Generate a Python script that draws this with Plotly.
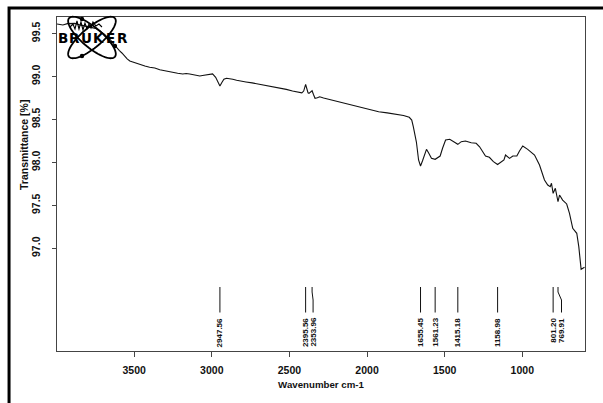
import numpy as np
import plotly.graph_objects as go

# IR spectrum (Bruker OPUS style printout)
wavenumber = [
    3997, 3975, 3959, 3930, 3900, 3881, 3850, 3820, 3785, 3750, 3720, 3690, 3669, 3650,
    3637, 3620, 3611, 3595, 3579, 3570, 3560, 3545, 3528, 3510, 3495, 3465, 3431, 3400,
    3367, 3335, 3302, 3280, 3257, 3220, 3187, 3165, 3142, 3110, 3077, 3060, 3045, 3020,
    2995, 2975, 2962, 2947.56, 2935, 2922, 2905, 2885, 2865, 2840, 2820, 2780, 2740, 2700,
    2660, 2620, 2562, 2520, 2480, 2445, 2420, 2408, 2402, 2395.56, 2388, 2380, 2374, 2365,
    2353.96, 2345, 2335, 2320, 2305, 2280, 2245, 2200, 2140, 2090, 2035, 1980, 1925, 1870,
    1811, 1765, 1728, 1712, 1702, 1694, 1682, 1668, 1655.45, 1643, 1630, 1617, 1603, 1585,
    1561.23, 1529, 1513, 1494, 1467, 1441, 1415.18, 1393, 1366, 1329, 1297, 1275, 1237, 1212,
    1186, 1158.98, 1135, 1118, 1108, 1082, 1061, 1035, 1018, 997, 965, 921, 889, 857,
    836, 820, 812, 801.20, 787, 769.91, 760, 740, 714, 696, 675, 649, 636, 621, 599,
]
transmittance = [
    99.611, 99.605, 99.599, 99.615, 99.622, 99.618, 99.600, 99.590, 99.576, 99.560, 99.529, 99.490, 99.448, 99.420,
    99.389, 99.350, 99.331, 99.300, 99.273, 99.255, 99.226, 99.205, 99.180, 99.168, 99.157, 99.136, 99.122, 99.108,
    99.098, 99.078, 99.064, 99.058, 99.052, 99.038, 99.029, 99.034, 99.029, 99.015, 99.005, 99.012, 99.017, 99.020,
    99.030, 98.990, 98.940, 98.889, 98.930, 98.967, 98.979, 98.975, 98.967, 98.955, 98.947, 98.936, 98.925, 98.912,
    98.900, 98.885, 98.866, 98.850, 98.831, 98.819, 98.810, 98.830, 98.870, 98.909, 98.860, 98.810, 98.804, 98.820,
    98.834, 98.790, 98.746, 98.752, 98.764, 98.750, 98.734, 98.712, 98.688, 98.662, 98.636, 98.612, 98.590, 98.576,
    98.563, 98.546, 98.525, 98.493, 98.415, 98.354, 98.237, 98.028, 97.958, 98.016, 98.097, 98.152, 98.109, 98.047,
    98.036, 98.074, 98.167, 98.260, 98.269, 98.241, 98.210, 98.241, 98.249, 98.229, 98.222, 98.182, 98.074, 98.059,
    98.008, 97.975, 98.004, 98.028, 98.086, 98.047, 98.074, 98.074, 98.132, 98.191, 98.152, 98.086, 97.969, 97.795,
    97.737, 97.717, 97.757, 97.640, 97.698, 97.542, 97.620, 97.562, 97.516, 97.407, 97.233, 97.175, 97.019, 96.756, 96.779,
]

peak_positions = [2947.56, 2395.56, 2353.96, 1655.45, 1561.23, 1415.18, 1158.98, 801.20, 769.91]
# horizontal nudge (px) of crowded peak labels
label_nudge = {2353.96: 1.0, 769.91: 3.5}

x_ticks = [3500, 3000, 2500, 2000, 1500, 1000]
y_ticks = [97.0, 97.5, 98.0, 98.5, 99.0, 99.5]
x_range = [3997, 596]
y_range = [95.805, 99.692]

W, H = 603, 403
L, R, T, B = 57, 585.5, 17, 351


def xp(x):
    return (x - L) / (R - L)


def yp(y):
    return (B - y) / (B - T)


px_per_unit = (R - L) / (x_range[0] - x_range[1])
FONT = "Liberation Sans"
INK = "#111111"

fig = go.Figure()
fig.add_trace(go.Scatter(
    x=wavenumber, y=transmittance, mode="lines",
    line=dict(color=INK, width=1.1), hoverinfo="skip",
))

shapes = []
annotations = []

# peak markers with labels
line_top, line_bend1, line_bend2, line_bot, text_top = 287, 292, 300, 312.5, 316
for v in peak_positions:
    dv = label_nudge.get(v, 0.0) / px_per_unit
    v2 = v - dv
    path = (f"M {v},{yp(line_top)} L {v},{yp(line_bend1)} "
            f"L {v2},{yp(line_bend2)} L {v2},{yp(line_bot)}")
    shapes.append(dict(type="path", xref="x", yref="paper", path=path,
                       line=dict(color=INK, width=1)))
    annotations.append(dict(
        x=v2, y=yp(text_top), xref="x", yref="paper", text=f"<b>{v:.2f}</b>",
        textangle=-90, showarrow=False, xanchor="center", yanchor="top",
        font=dict(family=FONT, size=8, color=INK),
    ))

# outer frame of the printout (left and top edges visible)
shapes.append(dict(type="rect", xref="paper", yref="paper",
                   x0=xp(9), y0=yp(8), x1=xp(640), y1=yp(440),
                   line=dict(color="black", width=3), layer="above"))

# Bruker logo: orbits, electrons, spectrum glyph and lettering
cx, cy = 92, 37.5
t = np.linspace(0, 2 * np.pi, 80)
for ang in (40, -40):
    a, b = 30, 10
    th = np.deg2rad(ang)
    ex = cx + a * np.cos(t) * np.cos(th) - b * np.sin(t) * np.sin(th)
    ey = cy + a * np.cos(t) * np.sin(th) + b * np.sin(t) * np.cos(th)
    pts = " L ".join(f"{xp(x):.5f},{yp(y):.5f}" for x, y in zip(ex, ey))
    shapes.append(dict(type="path", xref="paper", yref="paper", path="M " + pts + " Z",
                       line=dict(color="black", width=1.8)))
for dx, dy in [(82, 19), (82, 56), (115, 46)]:
    r = 2.2
    shapes.append(dict(type="circle", xref="paper", yref="paper",
                       x0=xp(dx - r), x1=xp(dx + r), y0=yp(dy + r), y1=yp(dy - r),
                       fillcolor="black", line=dict(color="black", width=0)))
zig_x = [70, 73, 75, 77, 79, 81, 83, 85, 87, 89, 91, 93, 96, 99, 102]
zig_y = [27, 24, 29, 21, 29, 22, 30, 23, 29, 24, 28, 22, 26, 24, 27]
shapes.append(dict(type="path", xref="paper", yref="paper",
                   path="M " + " L ".join(f"{xp(x):.5f},{yp(y):.5f}" for x, y in zip(zig_x, zig_y)),
                   line=dict(color="black", width=1.1)))
letters = "BRUKER"
for i, ch in enumerate(letters):
    annotations.append(dict(
        x=xp(57 + 71 / 6 * (i + 0.5)), y=yp(38.5), xref="paper", yref="paper",
        text=f"<b>{ch}</b>", showarrow=False, xanchor="center", yanchor="middle",
        font=dict(family="DejaVu Sans", size=13.5, color="black"),
    ))

# y-axis title
annotations.append(dict(
    x=xp(24), y=yp(145), xref="paper", yref="paper", text="<b>Transmittance [%]</b>",
    textangle=-90, showarrow=False, xanchor="center", yanchor="middle",
    font=dict(family=FONT, size=10.5, color=INK),
))

fig.update_layout(
    width=W, height=H,
    margin=dict(l=L, r=W - R, t=T, b=H - B),
    paper_bgcolor="white", plot_bgcolor="white",
    showlegend=False,
    shapes=shapes, annotations=annotations,
    xaxis=dict(
        range=x_range, tickvals=x_ticks, ticktext=[f"<b>{v}</b>" for v in x_ticks],
        showgrid=False, zeroline=False, showline=True, mirror=True,
        linecolor="#444444", linewidth=1, ticks="outside", ticklen=5,
        tickcolor="#444444", ticklabelstandoff=4,
        tickfont=dict(family=FONT, size=10.5, color=INK),
        title=dict(text="<b>Wavenumber cm-1</b>", standoff=6,
                   font=dict(family=FONT, size=9.7, color=INK)),
    ),
    yaxis=dict(
        range=y_range, tickvals=y_ticks, ticktext=[f"<b>{v:.1f}</b>" for v in y_ticks],
        showgrid=False, zeroline=False, showline=True, mirror=True,
        linecolor="#444444", linewidth=1, ticks="outside", ticklen=4,
        tickcolor="#444444", tickangle=-90, ticklabelstandoff=8,
        tickfont=dict(family=FONT, size=10.5, color=INK),
    ),
)

fig.write_html("out.html")
